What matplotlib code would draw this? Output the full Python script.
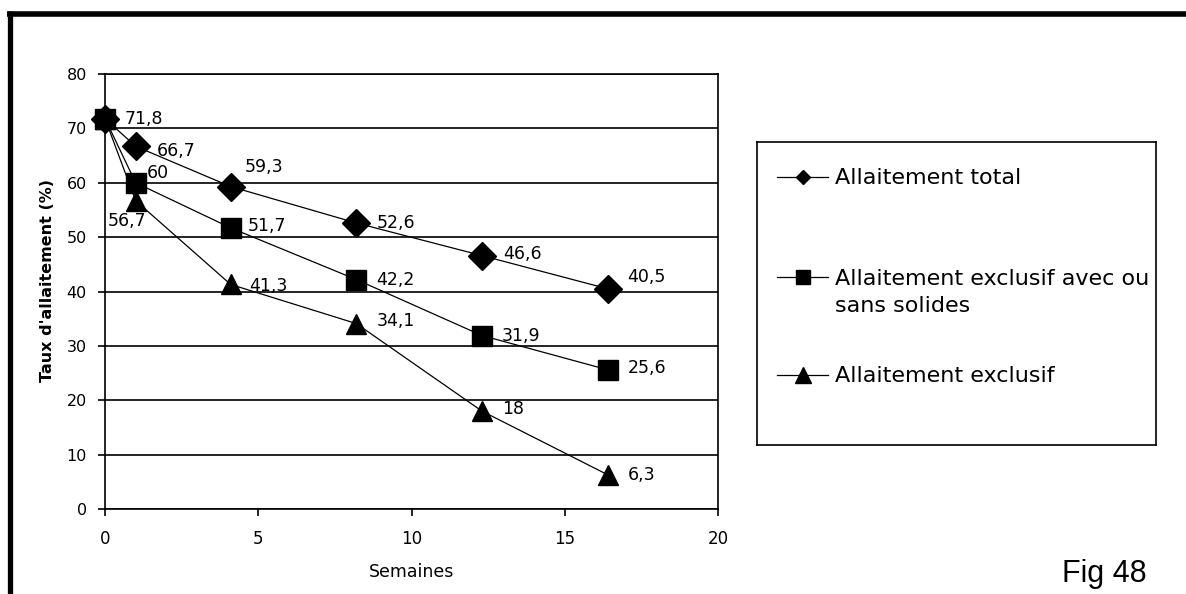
import numpy as np
import matplotlib.pyplot as plt
from matplotlib.lines import Line2D

plt.rcParams['font.family'] = ['DejaVu Sans']

# semaines (0, 1 semaine, puis 1 a 4 mois)
semaines = [0, 1, 4.1, 8.2, 12.3, 16.4]
total = [71.8, 66.7, 59.3, 52.6, 46.6, 40.5]
exclusif_solides = [71.8, 60, 51.7, 42.2, 31.9, 25.6]
exclusif = [71.8, 56.7, 41.3, 34.1, 18, 6.3]

noms = ["Allaitement total",
        "Allaitement exclusif avec ou\nsans solides",
        "Allaitement exclusif"]

# decalage des etiquettes (pixels) ; None = pas d'etiquette
decal_total = [(20, 0), (21, -5), (14, 20), (20, 0), (21, 2), (20, 12)]
decal_solides = [None, (11, 10), (17, 2), (20, 0), (20, 0), (20, 2)]
decal_excl = [None, (-28, -20), (19, -2), (20, 3), (20, 2), (20, 0)]

fig = plt.figure(figsize=(11.86, 5.94), dpi=100)
ax = fig.add_axes([105/1186, 1-509/594, (718-105)/1186, (509-74)/594])

series = [(total, "D", 14.5, decal_total),
          (exclusif_solides, "s", 14, decal_solides),
          (exclusif, "^", 14.5, decal_excl)]

for vals, mk, ms, decal in series:
    ax.plot(semaines, vals, color="black", lw=0.9, marker=mk, ms=ms,
            mfc="black", mec="black", zorder=3, clip_on=False)
    for xv, yv, d in zip(semaines, vals, decal):
        if d is None:
            continue
        txt = ("%g" % yv).replace(".", ",")
        ax.annotate(txt, (xv, yv), xytext=d, textcoords="offset pixels",
                    ha="left", va="center", fontsize=12.5, zorder=4)

ax.set_xlim(0, 20)
ax.set_ylim(0, 80)
ax.set_xticks([0, 5, 10, 15, 20])
ax.set_yticks(np.arange(0, 81, 10))
ax.yaxis.grid(True, color="black", lw=1.2)
ax.set_axisbelow(True)
for s in ax.spines.values():
    s.set_linewidth(1.2)
ax.tick_params(direction="out", length=5, width=1.2, labelsize=11.5, pad=8)
ax.tick_params(axis="x", labelsize=12, pad=10)

ax.set_xlabel("Semaines", fontsize=12.5)
ax.xaxis.label.set_va("center")
ax.xaxis.set_label_coords(0.5, -0.145)
ax.set_ylabel("Taux d'allaitement (%)", fontsize=11.5, fontweight="bold")
ax.yaxis.label.set_va("center")
ax.yaxis.set_label_coords(-0.0946, 0.526)

# cadre de la legende
bx0, by0, bw, bh = 757, 142, 1156-757, 445-142
lax = fig.add_axes([bx0/1186, 1-(by0+bh)/594, bw/1186, bh/594])
lax.set_xlim(bx0, bx0+bw)
lax.set_ylim(by0+bh, by0)
lax.set_xticks([])
lax.set_yticks([])
for s in lax.spines.values():
    s.set_linewidth(1.2)

leg_marqueurs = [("D", 7.5), ("s", 9.5), ("^", 12)]
leg_y = [177, 277, 375]
for (mk, ms), nom, yl in zip(leg_marqueurs, noms, leg_y):
    lax.plot([777, 828], [yl, yl], color="black", lw=0.9)
    lax.plot([802.5], [yl], color="black", marker=mk, ms=ms, lw=0)
    nlignes = nom.count("\n")
    lax.text(835, yl + 6.5 + 29 * nlignes, nom, fontsize=16, ha="left",
             va="baseline", linespacing=1.45)

fig.text(1062/1186, 1-582/594, "Fig 48", fontsize=22, family="Liberation Sans",
         ha="left", va="baseline")

# cadre exterieur (haut et gauche)
fig.add_artist(Line2D([7/1186, 1], [1-13.5/594, 1-13.5/594], color="black", lw=4,
                      solid_capstyle="butt", transform=fig.transFigure))
fig.add_artist(Line2D([9.5/1186, 9.5/1186], [0, 1-11/594], color="black", lw=3.8,
                      solid_capstyle="butt", transform=fig.transFigure))

fig.savefig("out.png", dpi=100)
